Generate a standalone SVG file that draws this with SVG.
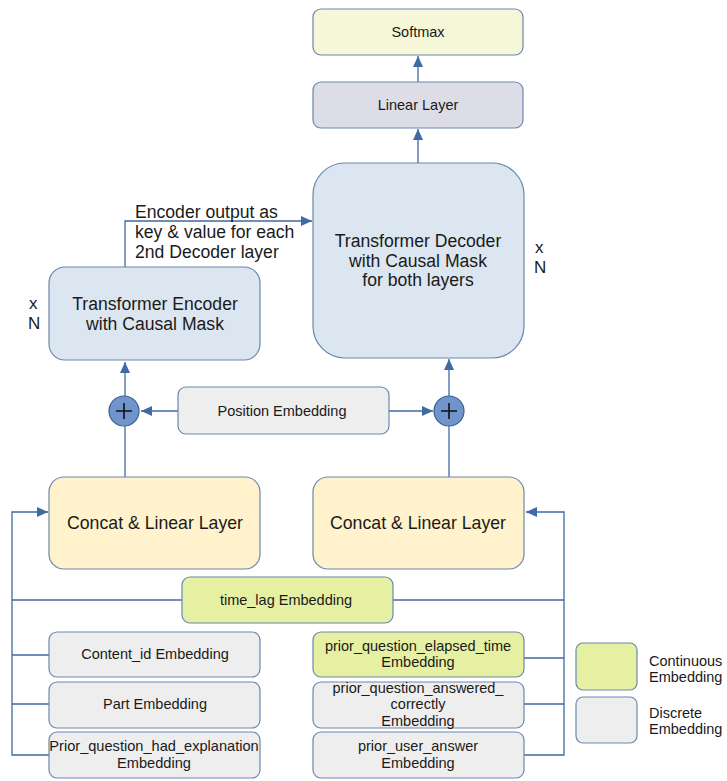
<svg xmlns="http://www.w3.org/2000/svg" width="727" height="781" viewBox="0 0 727 781">
<style>
.box{stroke:#6b87ad;stroke-width:1.2}
.t{font-family:"Liberation Sans",Arial,sans-serif;fill:#1a1a1a;text-anchor:middle}
.tl{font-family:"Liberation Sans",Arial,sans-serif;fill:#1a1a1a}
.ln{fill:none;stroke:#3f6aa3;stroke-width:1.3}
.yel{fill:#fff2cc}.blu{fill:#dce6f1}.gry{fill:#eeeeee}.grn{fill:#e6f0a3}
</style>
<defs>
<marker id="ah" markerWidth="12" markerHeight="10" refX="11" refY="5" orient="auto" markerUnits="userSpaceOnUse">
<path d="M0,0 L11,5 L0,10 Z" fill="#3f6aa3"/>
</marker>
</defs>
<rect width="727" height="781" fill="#ffffff"/>
<g id="connectors">
<line class="ln" x1="418" y1="82" x2="418" y2="56" marker-end="url(#ah)"/>
<line class="ln" x1="418" y1="163" x2="418" y2="129" marker-end="url(#ah)"/>
<polyline class="ln" points="125,267 125,221 312,221" marker-end="url(#ah)"/>
<line class="ln" x1="125" y1="477" x2="125" y2="426"/>
<line class="ln" x1="125" y1="396" x2="125" y2="362" marker-end="url(#ah)"/>
<line class="ln" x1="449" y1="477" x2="449" y2="426"/>
<line class="ln" x1="449" y1="396" x2="449" y2="359" marker-end="url(#ah)"/>
<line class="ln" x1="178" y1="411" x2="141" y2="411" marker-end="url(#ah)"/>
<line class="ln" x1="389" y1="411" x2="433" y2="411" marker-end="url(#ah)"/>
<polyline class="ln" points="49,755 12,755 12,512 48,512" marker-end="url(#ah)"/>
<line class="ln" x1="12" y1="600" x2="182" y2="600"/>
<line class="ln" x1="12" y1="655" x2="49" y2="655"/>
<line class="ln" x1="12" y1="704" x2="49" y2="704"/>
<polyline class="ln" points="524,755 564,755 564,512 526,512" marker-end="url(#ah)"/>
<line class="ln" x1="393" y1="600" x2="564" y2="600"/>
<line class="ln" x1="524" y1="658" x2="564" y2="658"/>
<line class="ln" x1="524" y1="704" x2="564" y2="704"/>
</g>
<g id="softmax">
<rect class="box" x="313" y="9" width="210" height="46" rx="8" fill="#f6f6d8"/>
<text class="t" x="418" y="37" font-size="14.5">Softmax</text>
</g>
<g id="linear">
<rect class="box" x="313" y="82" width="210" height="46" rx="8" fill="#dddde8"/>
<text class="t" x="418" y="110" font-size="14.5">Linear Layer</text>
</g>
<g id="decoder">
<rect class="box blu" x="313" y="163" width="211" height="195" rx="32"/>
<text class="t" x="418" y="247" font-size="17.6">Transformer Decoder</text>
<text class="t" x="418" y="267" font-size="17.6">with Causal Mask</text>
<text class="t" x="418" y="286" font-size="17.6">for both layers</text>
</g>
<text class="tl" x="535" y="253" font-size="17">x</text>
<text class="tl" x="534" y="273" font-size="17">N</text>
<g id="encoder-label">
<text class="tl" x="135" y="218" font-size="17.6">Encoder output as</text>
<text class="tl" x="135" y="238" font-size="17.6">key &amp; value for each</text>
<text class="tl" x="135" y="258" font-size="17.6">2nd Decoder layer</text>
</g>
<g id="encoder">
<rect class="box blu" x="49" y="267" width="211" height="93" rx="16"/>
<text class="t" x="155" y="310" font-size="17.6">Transformer Encoder</text>
<text class="t" x="155" y="330" font-size="17.6">with Causal Mask</text>
</g>
<text class="tl" x="29" y="309" font-size="17">x</text>
<text class="tl" x="28" y="329" font-size="17">N</text>
<g id="plus-left">
<circle cx="124" cy="411" r="15" fill="#6f95cc" stroke="#3a5f8f" stroke-width="1.2"/>
<path d="M116,411 H132 M124,403 V419" stroke="#111" stroke-width="1.6"/>
</g>
<g id="plus-right">
<circle cx="449" cy="411" r="15" fill="#6f95cc" stroke="#3a5f8f" stroke-width="1.2"/>
<path d="M441,411 H457 M449,403 V419" stroke="#111" stroke-width="1.6"/>
</g>
<g id="position">
<rect class="box gry" x="178" y="387" width="211" height="47" rx="8"/>
<text class="t" x="282" y="416" font-size="14.5">Position Embedding</text>
</g>
<g id="concat-left">
<rect class="box yel" x="49" y="477" width="211" height="92" rx="15"/>
<text class="t" x="155" y="529" font-size="17.7">Concat &amp; Linear Layer</text>
</g>
<g id="concat-right">
<rect class="box yel" x="313" y="477" width="211" height="92" rx="15"/>
<text class="t" x="418" y="529" font-size="17.7">Concat &amp; Linear Layer</text>
</g>
<g id="timelag">
<rect class="box grn" x="182" y="577" width="211" height="46" rx="8"/>
<text class="t" x="286" y="605" font-size="14.5">time_lag Embedding</text>
</g>
<g id="content">
<rect class="box gry" x="49" y="632" width="211" height="45" rx="8"/>
<text class="t" x="155" y="659" font-size="14.5">Content_id Embedding</text>
</g>
<g id="part">
<rect class="box gry" x="49" y="682" width="211" height="46" rx="8"/>
<text class="t" x="155" y="709" font-size="14.5">Part Embedding</text>
</g>
<g id="explanation">
<rect class="box gry" x="49" y="732" width="211" height="46" rx="8"/>
<text class="t" x="154" y="751" font-size="14.6">Prior_question_had_explanation</text>
<text class="t" x="154" y="768" font-size="14.6">Embedding</text>
</g>
<g id="elapsed">
<rect class="box grn" x="313" y="632" width="211" height="45" rx="8"/>
<text class="t" x="418" y="651" font-size="14.5">prior_question_elapsed_time</text>
<text class="t" x="418" y="667" font-size="14.5">Embedding</text>
</g>
<g id="answered">
<rect class="box gry" x="313" y="682" width="211" height="46" rx="8"/>
<text class="t" x="418" y="693" font-size="14.5">prior_question_answered_</text>
<text class="t" x="418" y="709" font-size="14.5">correctly</text>
<text class="t" x="418" y="726" font-size="14.5">Embedding</text>
</g>
<g id="useranswer">
<rect class="box gry" x="313" y="732" width="211" height="46" rx="8"/>
<text class="t" x="418" y="751" font-size="14.5">prior_user_answer</text>
<text class="t" x="418" y="768" font-size="14.5">Embedding</text>
</g>
<g id="legend-continuous">
<rect class="box grn" x="576" y="643" width="61" height="47" rx="7"/>
<text class="tl" x="649" y="666" font-size="14.5">Continuous</text>
<text class="tl" x="649" y="682" font-size="14.5">Embedding</text>
</g>
<g id="legend-discrete">
<rect class="box gry" x="576" y="697" width="61" height="46" rx="7"/>
<text class="tl" x="649" y="718" font-size="14.5">Discrete</text>
<text class="tl" x="649" y="734" font-size="14.5">Embedding</text>
</g>
</svg>
